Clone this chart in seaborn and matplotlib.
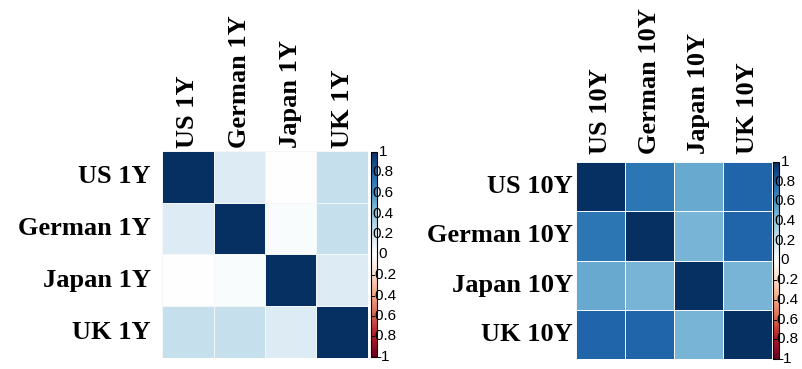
import numpy as np
import pandas as pd
import matplotlib
matplotlib.use("Agg")
import matplotlib.pyplot as plt
import matplotlib.transforms as mtransforms
from matplotlib.colors import LinearSegmentedColormap
import seaborn as sns

labels_1y = ["US 1Y", "German 1Y", "Japan 1Y", "UK 1Y"]
corr_1y = [
    [1.00, 0.15, -0.01, 0.23],
    [0.15, 1.00, 0.02, 0.23],
    [-0.01, 0.02, 1.00, 0.14],
    [0.23, 0.23, 0.14, 1.00],
]
labels_10y = ["US 10Y", "German 10Y", "Japan 10Y", "UK 10Y"]
corr_10y = [
    [1.00, 0.72, 0.50, 0.80],
    [0.72, 1.00, 0.46, 0.80],
    [0.50, 0.46, 1.00, 0.46],
    [0.80, 0.80, 0.46, 1.00],
]
cbar_ticks = [1, 0.8, 0.6, 0.4, 0.2, 0, -0.2, -0.4, -0.6, -0.8, -1]
cbar_ticklabels = ["1", "0.8", "0.6", "0.4", "0.2", "0", "-0.2", "-0.4", "-0.6", "-0.8", "-1"]

palette = ["#67001F", "#B2182B", "#D6604D", "#F4A582", "#FDDBC7", "#FFFFFF",
           "#D1E5F0", "#92C5DE", "#4393C3", "#2166AC", "#053061"]
cmap = LinearSegmentedColormap.from_list("corrplot", palette, N=200)

W, H = 802, 369
fig = plt.figure(figsize=(W / 100, H / 100), dpi=100)

def px_axes(x0, y0, x1, y1):
    return fig.add_axes([x0 / W, 1 - y1 / H, (x1 - x0) / W, (y1 - y0) / H])

def draw(labels, corr, hm_box, cb_box, xpad, ypad):
    ax = px_axes(*hm_box)
    cax = px_axes(*cb_box)
    df = pd.DataFrame(corr, index=labels, columns=labels)
    sns.heatmap(df, ax=ax, cbar_ax=cax, cmap=cmap, vmin=-1, vmax=1,
                linewidths=0.6, linecolor="#f4f7fa", square=False)
    ax.xaxis.tick_top()
    ax.set_xticklabels(labels, rotation=90, fontsize=19, fontweight="bold",
                       family="Liberation Serif", va="bottom", ha="center")
    ax.set_yticklabels(labels, rotation=0, fontsize=19, fontweight="bold",
                       family="Liberation Serif", va="center", ha="right")
    ax.tick_params(axis="both", length=0)
    ax.tick_params(axis="x", pad=xpad)
    ax.tick_params(axis="y", pad=ypad)
    ax.set_xlabel("")
    ax.set_ylabel("")
    cbar = ax.collections[0].colorbar
    cbar.set_ticks([])
    cbar.outline.set_edgecolor("black")
    cbar.outline.set_linewidth(0.8)
    trans = mtransforms.blended_transform_factory(cax.transAxes, cax.transData)
    for v, t in zip(cbar_ticks, cbar_ticklabels):
        cax.text(2.0, v, t, transform=trans, ha="center", va="center",
                 fontsize=11, family="Liberation Sans", clip_on=False)

draw(labels_1y, corr_1y, (162, 151, 368, 358), (371, 152, 377, 357), 2, 8)
draw(labels_10y, corr_10y, (576, 162, 772, 359), (773, 162, 779, 359), 6, 2)

fig.savefig("out.png", dpi=100)
